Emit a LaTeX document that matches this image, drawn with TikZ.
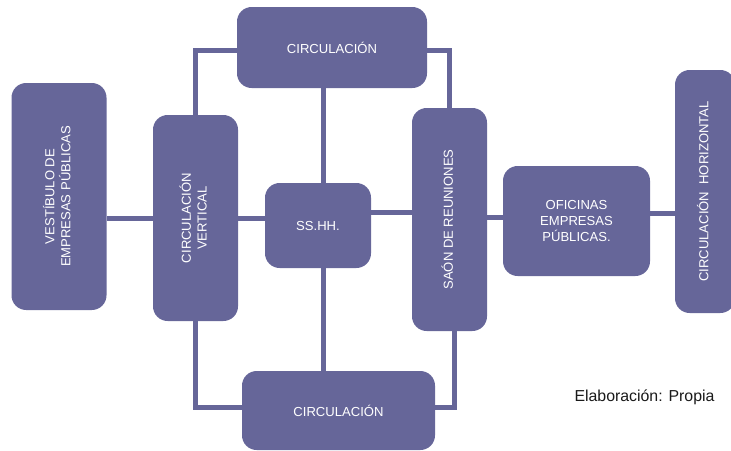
\documentclass[tikz,border=0pt]{standalone}
\usepackage{fontspec}
\setmainfont{Liberation Sans}
\usepackage{tikz}
\usetikzlibrary{calc}
\usepackage{xcolor}
\definecolor{zoneFill}{HTML}{666699}
\definecolor{zoneText}{HTML}{FFFFFF}
\definecolor{noteText}{HTML}{1A1A1A}
\newcommand{\vtext}[1]{\rotatebox{90}{\begin{tabular}{@{}c@{}}#1\end{tabular}}}
\tikzset{
  zone/.style={rounded corners=11pt, fill=zoneFill, draw=none, align=center, inner sep=2pt, text=zoneText, font=\fontsize{9.8}{11.8}\selectfont},
  link/.style={line width=3.75pt, draw=zoneFill},
  note/.style={text=noteText, font=\fontsize{11.9}{14}\selectfont, inner sep=0pt}
}
\begin{document}
\begin{tikzpicture}[x=0.75pt,y=-0.75pt]
  \useasboundingbox (0,0) rectangle (731,450);
  \clip (0,0) rectangle (731,450);
  \node[zone, minimum width=71.25pt, minimum height=170.25pt] (vest) at (59,196.5) {\vtext{VESTÍBULO DE\\EMPRESAS PÚBLICAS}};
  \node[zone, minimum width=63.75pt, minimum height=154.5pt] (cv) at (195.5,218) {\vtext{CIRCULACIÓN\\VERTICAL}};
  \node[zone, minimum width=142.5pt, minimum height=60.75pt] (top) at (332,47.5) {CIRCULACIÓN};
  \node[zone, minimum width=79.5pt, minimum height=63.75pt] (ss) at (318,225.5) {SS.HH.};
  \node[zone, minimum width=144.75pt, minimum height=59.25pt] (bot) at (338.5,410.5) {CIRCULACIÓN};
  \node[zone, minimum width=56.25pt, minimum height=167.25pt] (salon) at (449.5,219.5) {\vtext{SAÓN DE REUNIONES}};
  \node[zone, minimum width=110.25pt, minimum height=82.5pt] (ofic) at (576.5,221) {OFICINAS\\EMPRESAS\\PÚBLICAS.};
  \node[zone, minimum width=45pt, minimum height=182.25pt] (ch) at (705,191.5) {\vtext{CIRCULACIÓN\ \ HORIZONTAL}};
  \node[note] (elab) at (644.5,397) {Elaboración: Propia};
  % horizontal links
  \draw[link] (cv.west) -- (cv.west -| vest.east);
  \draw[link] (cv.east) -- (cv.east -| ss.west);
  \draw[link] ([yshift=4.9pt]salon.west) -- ([yshift=4.9pt]salon.west -| ss.east);
  \draw[link] ([yshift=3pt]ofic.west) -- ([yshift=3pt]ofic.west -| salon.east);
  \draw[link] ([yshift=6pt]ofic.east) -- ([yshift=6pt]ofic.east -| ch.west);
  % vertical links
  \draw[link] ([xshift=3.75pt]ss.north) -- ([xshift=3.75pt]ss.north |- top.south);
  \draw[link] ([xshift=3.75pt]ss.south) -- ([xshift=3.75pt]ss.south |- bot.north);
  % ring
  \draw[link] (cv.north) |- ([yshift=-2pt]top.west);
  \draw[link] (salon.north) |- ([yshift=-2pt]top.east);
  \draw[link] (cv.south) |- ([yshift=2.5pt]bot.west);
  \draw[link] ([xshift=3.75pt]salon.south) |- ([yshift=2.5pt]bot.east);
\end{tikzpicture}
\end{document}
